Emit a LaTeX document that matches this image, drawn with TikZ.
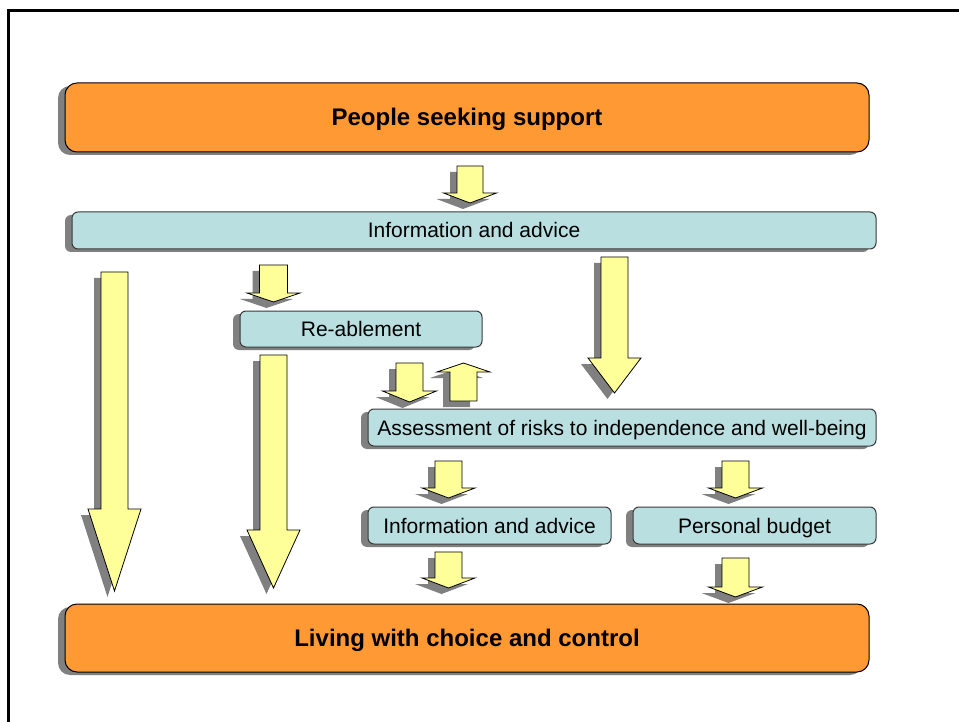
\documentclass[tikz,border=0pt]{standalone}
\usepackage{fontspec}
\setmainfont{Liberation Sans}
\usetikzlibrary{shadows}
\definecolor{boxorange}{HTML}{FF9933}
\definecolor{boxblue}{HTML}{B9DFE1}
\definecolor{arrowyellow}{HTML}{FFFF99}
\definecolor{shadowgray}{HTML}{808080}
\definecolor{edgegray}{HTML}{3A3A3A}
\newcommand\blkarrow[6]{% cx, start, headbase, tip, halfshaft, halfhead
  \fill[shadowgray,xshift=-7pt,yshift=-6pt] ({#1-#5},#2) -- ({#1+#5},#2) -- ({#1+#5},#3) -- ({#1+#6},#3) -- (#1,#4) -- ({#1-#6},#3) -- ({#1-#5},#3) -- cycle;
  \draw[arrowshape] ({#1-#5},#2) -- ({#1+#5},#2) -- ({#1+#5},#3) -- ({#1+#6},#3) -- (#1,#4) -- ({#1-#6},#3) -- ({#1-#5},#3) -- cycle;
}
\begin{document}
\begin{tikzpicture}[x=1pt,y=-1pt,
  arrowshape/.style={fill=arrowyellow,draw=black,line width=0.8pt,line join=miter},
  bigbox/.style={draw=black,line width=1pt,fill=boxorange,rounded corners=12pt,
    minimum width=804pt,inner sep=0pt,text height=17pt,text depth=0pt,
    font=\fontsize{24}{28}\selectfont\bfseries,
    general shadow={fill=shadowgray,shadow xshift=-7pt,shadow yshift=-3pt}},
  bluebox/.style={draw=edgegray,line width=1pt,fill=boxblue,rounded corners=6pt,
    minimum height=37pt,inner sep=0pt,text height=15pt,text depth=0pt,
    font=\fontsize{21}{25}\selectfont,
    general shadow={fill=shadowgray,shadow xshift=-7pt,shadow yshift=-3pt}}]
\useasboundingbox (0,0) rectangle (959,722);
\fill[white] (0,0) rectangle (959,722);
\draw[line width=3pt] (8,723) -- (8,11) -- (960,11);

% block arrows
\blkarrow{470}{166}{193}{203}{13}{26.5}
\blkarrow{114.5}{272}{509}{591}{13.5}{26.5}
\blkarrow{273.5}{265}{293}{302}{14}{26.5}
\blkarrow{273.5}{355}{530}{588}{13.5}{26.5}
\blkarrow{614.5}{257}{358}{393}{13.5}{26.5}
\blkarrow{409.5}{363}{391}{402}{13.5}{27}
\blkarrow{463.5}{401}{372}{363}{13.5}{26.5}
\blkarrow{448.5}{461}{488}{498}{13.5}{26.5}
\blkarrow{735.5}{461}{488}{498}{13.5}{27}
\blkarrow{448.5}{552}{578}{588}{13.5}{26.5}
\blkarrow{735.5}{558}{587}{597}{13.5}{27}

% boxes
\node[bigbox,minimum height=69pt] (seek) at (467,117.5) {People seeking support};
\node[bluebox,minimum width=804pt] (info1) at (474,230.5) {Information and advice};
\node[bluebox,minimum width=242pt,minimum height=36pt] (reable) at (361,329) {Re-ablement};
\node[bluebox,minimum width=508pt] (assess) at (622,427.5) {Assessment of risks to independence and well-being};
\node[bluebox,minimum width=243pt] (info2) at (489.5,525.5) {Information and advice};
\node[bluebox,minimum width=243pt] (budget) at (754.5,525.5) {Personal budget};
\node[bigbox,minimum height=68pt] (living) at (467,638) {Living with choice and control};
\end{tikzpicture}
\end{document}
